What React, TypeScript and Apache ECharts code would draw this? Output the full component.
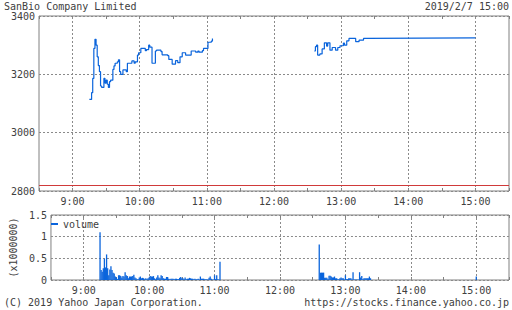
import React, { useEffect, useRef } from "react";
import * as echarts from "echarts";

const titleText = "SanBio Company Limited";
const dateText = "2019/2/7 15:00";
const copyrightText = "(C) 2019 Yahoo Japan Corporation.";
const urlText = "https://stocks.finance.yahoo.co.jp";

const hourTicks = ["9:00", "10:00", "11:00", "12:00", "13:00", "14:00", "15:00"];
const axisStart = "8:30";
const axisEnd = "15:30";

const morningTimes = ["9:15","9:17","9:18","9:19","9:20","9:21","9:22","9:23","9:24","9:25","9:26","9:28","9:29","9:30","9:31","9:32","9:33","9:34","9:36","9:37","9:38","9:40","9:41","9:42","9:43","9:45","9:48","9:49","9:53","9:55","9:56","9:58","9:59","10:01","10:05","10:06","10:08","10:09","10:11","10:14","10:15","10:19","10:20","10:25","10:26","10:29","10:32","10:34","10:36","10:38","10:41","10:46","10:50","10:52","10:53","10:56","10:57","11:01","11:04","11:05"];
const morningPrices = [3114,3137,3186,3289,3320,3300,3260,3230,3209,3160,3155,3186,3170,3180,3166,3155,3175,3180,3217,3229,3238,3243,3250,3209,3200,3215,3209,3238,3246,3238,3243,3266,3274,3289,3281,3285,3300,3293,3238,3280,3283,3278,3267,3264,3251,3235,3247,3240,3260,3274,3266,3280,3276,3280,3276,3281,3289,3310,3314,3323];

const afternoonTimes = ["12:36","12:37","12:38","12:39","12:41","12:43","12:45","12:47","12:48","12:50","12:52","12:55","12:57","12:59","13:02","13:03","13:05","13:07","13:13","13:16","13:20","13:23","15:00"];
const afternoonPrices = [3280,3295,3300,3266,3270,3287,3308,3297,3308,3283,3292,3283,3292,3298,3307,3300,3315,3323,3312,3317,3323,3325,3325];

const limitLowPrice = 2820;

// per-minute volume (x1,000,000)
const morningVolumeStart = "9:15";
const morningVolume = [
  1.10,0.23,0.19,0.27,0.49,0.29,0.59,0.27,0.11,0.24,0.32,0.23,0.17,0.15,0.08,0.06,0.02,0.11,0.11,0.09,
  0.06,0.09,0.08,0.18,0.11,0.09,0.04,0.08,0.08,0.08,0.09,0.12,0.06,0.04,0.02,0.02,0.06,0.08,0.04,0.05,
  0.04,0.02,0.04,0.02,0.04,0.06,0.09,0.08,0.08,0.09,0.04,0.02,0.06,0.11,0.06,
  0.04,0.11,0.09,0.04,0.03,0.03,0.07,0.07,0.03,0.02,
  0.03,0.03,0.03,0.02,0.03,0.03,0.02,0.02,0.05,0.07,
  0.04,0.04,0.02,0.06,0.02,0.03,0.03,0.05,0.04,0.03,
  0.03,0.02,0.03,0.02,0.02,0.03,0.01,0.08,0.03,0.03,
  0.03,0.02,0.02,0.02,0.01,0.05,0.08,0.03,0.01,0.01,
  0.11,0.02,0.11,0.02,0.01,0.42,
];
const afternoonVolumeStart = "12:36";
const afternoonVolume = [
  0.82,0.17,0.17,0.17,0.17,0.05,0.05,0.05,0.02,0.10,
  0.10,0.08,0.06,0.06,0.08,0.04,0.04,0.02,0.02,0.04,
  0.06,0.04,0.04,0.01,0.11,0.02,0.02,0.04,0.04,0.04,
  0.01,0.18,0.01,0.01,0.01,0.01,0.01,0.18,0.06,0.09,
  0.02,0.04,0.04,0.04,0.04,0.04,0.08,0.04,
];
const closeVolumeTime = "15:00";
const closeVolume = 0.08;

const toMin = (t: string) => {
  const [h, m] = t.split(":").map(Number);
  return h * 60 + m;
};

const FONT = "'DejaVu Sans Mono', 'Liberation Mono', monospace";
const TEXT = "#404040";
const BLUE = "#0a64dc";
const BORDER = "#808080";
const GRIDC = "#8a8a8a";

export default function App() {
  const ref = useRef<HTMLDivElement>(null);
  useEffect(() => {
    if (!ref.current) return;
    const chart = echarts.init(ref.current, undefined, { renderer: "svg" });

    const xMin = toMin(axisStart);
    const xMax = toMin(axisEnd);
    const hourSet = new Set(hourTicks.map(toMin));
    const fmt = (v: number) => (hourSet.has(v) ? `${Math.floor(v / 60)}:00` : "");

    const xAxisFor = (gridIndex: number, position: string, showLabel: boolean) => ({
      type: "value",
      gridIndex,
      position,
      min: xMin,
      max: xMax,
      interval: 30,
      axisLine: { show: false },
      axisTick: { show: true, inside: true, length: 3, lineStyle: { color: BORDER } },
      axisLabel: {
        show: showLabel,
        formatter: fmt,
        color: TEXT,
        fontFamily: FONT,
        fontSize: 10,
        margin: 5,
      },
      splitLine: { show: false },
    });

    const hourLines = hourTicks.map((h) => ({
      xAxis: toMin(h),
      lineStyle: { color: GRIDC, type: [2, 2], width: 1 },
    }));

    const amData = morningTimes.map((t, i) => [toMin(t), morningPrices[i]]);
    const pmData = afternoonTimes.map((t, i) => [toMin(t), afternoonPrices[i]]);
    const amStart = toMin(morningVolumeStart);
    const pmStart = toMin(afternoonVolumeStart);
    const volData = [
      ...morningVolume.map((v, i) => [amStart + i, v]),
      ...afternoonVolume.map((v, i) => [pmStart + i, v]),
      [toMin(closeVolumeTime), closeVolume],
    ];

    const textStyle = { fontFamily: FONT, fontSize: 10, fill: TEXT };

    chart.setOption({
      animation: false,
      backgroundColor: "#ffffff",
      textStyle: { fontFamily: FONT },
      grid: [
        { left: 39, top: 16, width: 472, height: 175, show: true, borderColor: BORDER, borderWidth: 1, backgroundColor: "transparent" },
        { left: 39, top: 215, width: 472, height: 65, show: true, borderColor: BORDER, borderWidth: 1, backgroundColor: "transparent" },
      ],
      legend: {
        data: ["volume"],
        left: 51,
        top: 219,
        padding: 0,
        icon: "rect",
        itemWidth: 7,
        itemHeight: 2,
        textStyle: { fontFamily: FONT, fontSize: 10, color: TEXT },
      },
      xAxis: [
        xAxisFor(0, "bottom", true),
        xAxisFor(0, "top", false),
        xAxisFor(1, "bottom", true),
        xAxisFor(1, "top", false),
      ],
      yAxis: [
        {
          type: "value",
          gridIndex: 0,
          min: 2800,
          max: 3400,
          interval: 200,
          axisLine: { show: false },
          axisTick: { show: false },
          axisLabel: { color: TEXT, fontFamily: FONT, fontSize: 10, margin: 4, formatter: (v: number) => String(v) },
          splitLine: { show: true, lineStyle: { color: GRIDC, type: [2, 2], width: 1 } },
        },
        {
          type: "value",
          gridIndex: 1,
          min: 0,
          max: 1.5,
          interval: 0.5,
          name: "(x1000000)",
          nameLocation: "middle",
          nameRotate: 90,
          nameGap: 31,
          nameTextStyle: { color: TEXT, fontFamily: FONT, fontSize: 10 },
          axisLine: { show: false },
          axisTick: { show: false },
          axisLabel: { color: TEXT, fontFamily: FONT, fontSize: 10, margin: 4, formatter: (v: number) => String(v) },
          splitLine: { show: true, lineStyle: { color: GRIDC, type: [2, 2], width: 1 } },
        },
      ],
      series: [
        {
          name: "price",
          type: "line",
          xAxisIndex: 0,
          yAxisIndex: 0,
          step: "end",
          showSymbol: false,
          z: 3,
          lineStyle: { color: BLUE, width: 1.2 },
          data: amData,
          markLine: {
            silent: true,
            symbol: "none",
            z: 1,
            label: { show: false },
            data: [
              ...hourLines,
              { yAxis: limitLowPrice, lineStyle: { color: "#d03a3a", type: "solid", width: 1.2 } },
            ],
          },
        },
        {
          name: "price",
          type: "line",
          xAxisIndex: 0,
          yAxisIndex: 0,
          step: "end",
          showSymbol: false,
          z: 3,
          lineStyle: { color: BLUE, width: 1.2 },
          data: pmData,
        },
        {
          name: "volume",
          type: "bar",
          xAxisIndex: 2,
          yAxisIndex: 1,
          barWidth: 1.3,
          itemStyle: { color: BLUE },
          z: 3,
          data: volData,
          markLine: {
            silent: true,
            symbol: "none",
            z: 1,
            label: { show: false },
            data: hourLines,
          },
        },
      ],
      graphic: [
        { type: "text", x: 4, y: 6, style: { ...textStyle, text: titleText, align: "left", verticalAlign: "middle" } },
        { type: "text", x: 509, y: 6, style: { ...textStyle, text: dateText, align: "right", verticalAlign: "middle" } },
        { type: "text", x: 4, y: 302, style: { ...textStyle, text: copyrightText, align: "left", verticalAlign: "middle" } },
        { type: "text", x: 509, y: 302, style: { ...textStyle, text: urlText, align: "right", verticalAlign: "middle" } },
      ],
    });
    return () => chart.dispose();
  }, []);

  return (
    <div
      ref={ref}
      style={{ position: "fixed", left: 0, top: 0, width: 512, height: 310, background: "#fff" }}
    />
  );
}
